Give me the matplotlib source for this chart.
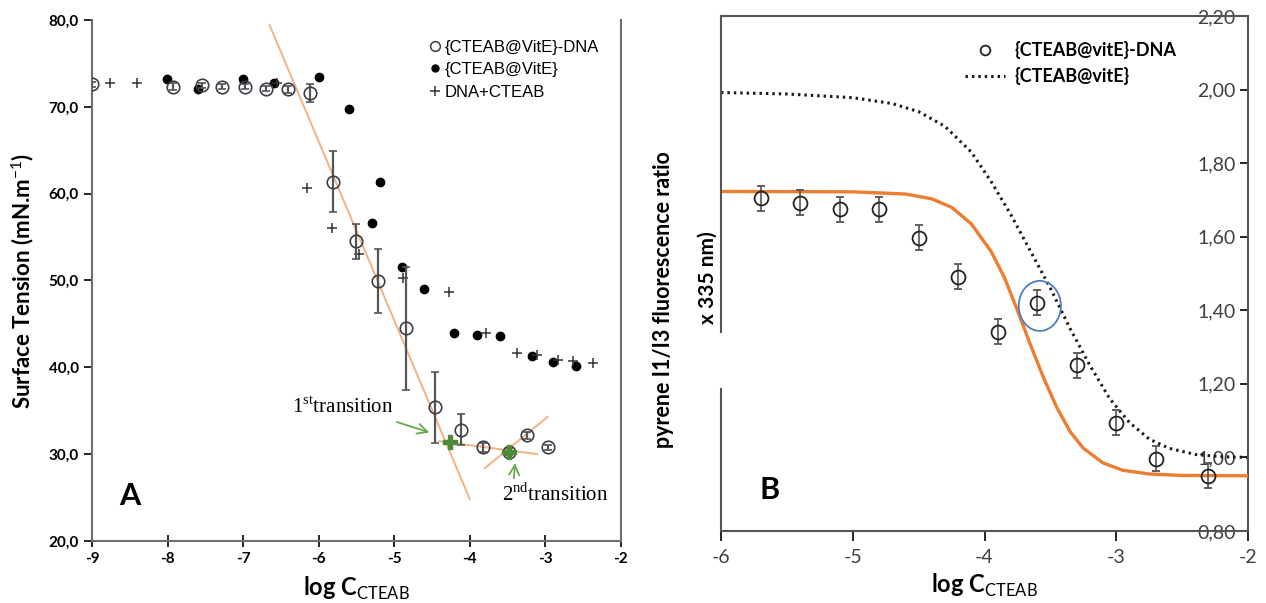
import numpy as np
import matplotlib.pyplot as plt
from matplotlib.patches import Ellipse
from matplotlib.lines import Line2D
from matplotlib.ticker import FuncFormatter

plt.rcParams['font.family'] = ['Lato', 'DejaVu Sans']
plt.rcParams['mathtext.fontset'] = 'custom'
plt.rcParams['mathtext.rm'] = 'Liberation Serif'
plt.rcParams['mathtext.sf'] = 'Lato'

# ---- panel A : surface tension ----
dna_x = [-9.0, -7.93, -7.54, -7.28, -6.98, -6.70, -6.41, -6.12, -5.81, -5.51,
         -5.22, -4.85, -4.46, -4.12, -3.83, -3.48, -3.25, -2.97]
dna_y = [72.6, 72.3, 72.5, 72.3, 72.3, 72.1, 72.0, 71.6, 61.4, 54.5,
         49.9, 44.5, 35.4, 32.8, 30.8, 30.3, 32.2, 30.8]
dna_err = [0.3, 0.4, 0.3, 0.3, 0.3, 0.3, 0.4, 1.0, 3.5, 2.0,
           3.7, 7.1, 4.1, 1.8, 0.5, 0.4, 0.4, 0.3]

vite_x = [-8.01, -7.60, -7.00, -6.59, -6.00, -5.60, -5.19, -5.30, -4.90, -4.61,
          -4.21, -3.91, -3.60, -3.18, -2.90, -2.60]
vite_y = [73.2, 72.0, 73.2, 72.8, 73.4, 69.8, 61.4, 56.6, 51.5, 49.0,
          43.9, 43.7, 43.6, 41.3, 40.6, 40.1]

mix_x = [-8.76, -8.40, -6.55, -6.16, -5.83, -5.47, -4.89, -4.28, -3.78, -3.38,
         -3.11, -2.84, -2.64, -2.37]
mix_y = [72.8, 72.8, 72.7, 60.7, 56.1, 53.0, 50.3, 48.7, 44.0, 41.7,
         41.4, 40.9, 40.7, 40.5]

# guide lines drawn by hand in the original
fit1_x, fit1_y = [-6.65, -4.0], [79.4, 24.8]
fit2_x, fit2_y = [-4.40, -3.11], [31.5, 30.0]
fit3_x, fit3_y = [-3.80, -2.97], [28.4, 34.3]
trans_x = [-4.26, -3.48]
trans_y = [31.4, 30.3]

# ---- panel B : pyrene ratio ----
pyr_x = [-5.7, -5.4, -5.1, -4.8, -4.5, -4.2, -3.9, -3.6, -3.3, -3.0, -2.7, -2.3]
pyr_y = [1.705, 1.692, 1.675, 1.675, 1.597, 1.491, 1.341, 1.420, 1.251, 1.094, 0.996, 0.950]
pyr_err = [0.034] * 12

fitdna_x = [-6.0, -5.0, -4.6, -4.4, -4.25, -4.1, -3.95, -3.85, -3.75, -3.65,
            -3.55, -3.45, -3.35, -3.25, -3.1, -2.95, -2.75, -2.5, -2.0]
fitdna_y = [1.723, 1.722, 1.716, 1.703, 1.68, 1.635, 1.56, 1.49, 1.40, 1.305,
            1.215, 1.135, 1.07, 1.025, 0.985, 0.965, 0.955, 0.951, 0.95]

fitvite_x = [-6.0, -5.5, -5.0, -4.7, -4.5, -4.3, -4.1, -3.95, -3.8, -3.65,
             -3.5, -3.35, -3.2, -3.05, -2.9, -2.75, -2.6, -2.4, -2.2, -2.0]
fitvite_y = [1.992, 1.988, 1.978, 1.962, 1.94, 1.90, 1.83, 1.75, 1.66, 1.56,
             1.46, 1.35, 1.25, 1.16, 1.095, 1.05, 1.025, 1.008, 1.002, 1.0]

W, H = 1266, 603
fig = plt.figure(figsize=(W / 100, H / 100), dpi=100)

def frac(x0, y0, x1, y1):
    # pixel box -> figure fraction
    return [x0 / W, 1 - y1 / H, (x1 - x0) / W, (y1 - y0) / H]

comma1 = FuncFormatter(lambda v, p: ('%.1f' % v).replace('.', ','))
comma2 = FuncFormatter(lambda v, p: ('%.2f' % v).replace('.', ','))
intfmt = FuncFormatter(lambda v, p: '%d' % v)

# ================= A =================
ax1 = fig.add_axes(frac(92, 20, 621, 541))
ax1.errorbar(dna_x, dna_y, yerr=dna_err, fmt='o', mfc='none', mec='#3a3f4a', ms=9,
             mew=1.2, ecolor='#555555', elinewidth=1.6, capsize=3, zorder=4)
ax1.plot(vite_x, vite_y, 'o', color='black', ms=6, zorder=3)
ax1.plot(mix_x, mix_y, '+', color='#333333', ms=7, mew=1.1, zorder=3)

for fx, fy in [(fit1_x, fit1_y), (fit2_x, fit2_y), (fit3_x, fit3_y)]:
    ax1.plot(fx, fy, color='#f4b183', lw=1.4, zorder=2)
ax1.plot(trans_x, trans_y, 'P', color='#4f8a3c', ms=10, zorder=5)

ax1.annotate('', xy=(-4.50, 32.4), xytext=(-5.0, 33.8),
             arrowprops=dict(arrowstyle='->', color='#6aa84f', lw=1.3, mutation_scale=18))
ax1.annotate('', xy=(-3.40, 29.3), xytext=(-3.42, 26.9),
             arrowprops=dict(arrowstyle='->', color='#6aa84f', lw=1.3, mutation_scale=18))
ax1.text(-6.36, 35.4, r'1$^{\mathrm{st}}$transition', family='Liberation Serif',
         fontsize=15, va='center', ha='left')
ax1.text(-3.58, 25.3, r'2$^{\mathrm{nd}}$transition', family='Liberation Serif',
         fontsize=15, va='center', ha='left')
ax1.text(-8.5, 25.2, 'A', fontsize=22, fontweight='bold', ha='center', va='center')

ax1.set_xlim(-9, -2)
ax1.set_ylim(20, 80)
ax1.set_xticks(range(-9, -1))
ax1.set_yticks(range(20, 81, 10))
ax1.xaxis.set_major_formatter(intfmt)
ax1.yaxis.set_major_formatter(comma1)
ax1.tick_params(axis='x', direction='inout', length=8, width=1.2, labelsize=11, pad=4)
ax1.tick_params(axis='y', direction='out', length=6, width=1.2, labelsize=11)
for lab in ax1.get_xticklabels() + ax1.get_yticklabels():
    lab.set_fontweight('bold')
for s in ax1.spines.values():
    s.set_color('#6e6e6e')
    s.set_linewidth(1.5)
ax1.spines['top'].set_visible(False)
ax1.set_xlabel(r'log C$_{\mathsf{CTEAB}}$', fontsize=17, fontweight='bold', labelpad=6)
ax1.set_ylabel(r'Surface Tension (mN.m$^{\mathsf{-1}}$)', fontsize=16, fontweight='bold',
               labelpad=8)
leg1 = [Line2D([], [], ls='none', marker='o', mfc='none', mec='#3a3f4a', ms=7, mew=1.1),
        Line2D([], [], ls='none', marker='o', color='black', ms=5),
        Line2D([], [], ls='none', marker='+', color='#333333', ms=7, mew=1.1)]
ax1.legend(leg1, ['{CTEAB@VitE}-DNA', '{CTEAB@VitE}', 'DNA+CTEAB'],
           loc='upper left', bbox_to_anchor=(0.625, 0.975), frameon=False,
           prop={'family': 'Liberation Sans', 'size': 12}, handlelength=0.7,
           handletextpad=0.2, labelspacing=0.45, borderaxespad=0)

# ================= B =================
ax2 = fig.add_axes(frac(721, 16, 1248, 531))
ax2.plot(fitvite_x, fitvite_y, color='#1a1a1a', lw=2.2, ls=(0, (0.8, 1.3)), zorder=2)
ax2.plot(fitdna_x, fitdna_y, color='#ed7d31', lw=2.4, zorder=3)
ax2.errorbar(pyr_x, pyr_y, yerr=pyr_err, fmt='o', mfc='none', mec='#222222', ms=10,
             mew=1.3, ecolor='#555555', elinewidth=1.2, capsize=3, zorder=4)
ax2.add_patch(Ellipse((-3.58, 1.412), 0.32, 0.136, angle=0, fill=False,
                      ec='#4f7fb8', lw=1.3, zorder=5))
ax2.text(-5.63, 0.912, 'B', fontsize=22, fontweight='bold', ha='center', va='center')

ax2.set_xlim(-6, -2)
ax2.set_ylim(0.8, 2.2)
ax2.set_xticks(range(-6, -1))
ax2.set_yticks(np.arange(0.8, 2.21, 0.2))
ax2.xaxis.set_major_formatter(intfmt)
ax2.yaxis.set_major_formatter(comma2)
# y axis crosses at x = -2 : labels sit inside the box
ax2.spines['left'].set_position(('axes', 1.0))
ax2.spines['right'].set_visible(False)
for s in ax2.spines.values():
    s.set_color('#555555')
    s.set_linewidth(1.5)
ax2.tick_params(axis='y', direction='out', length=6, width=1.2, labelsize=14,
                labelcolor='#404040', pad=3)
ax2.tick_params(axis='x', direction='out', length=7, width=1.2, labelsize=14,
                labelcolor='#404040', pad=6)
# left border of the box, broken where the axis title sits
for y0, y1 in [(0.0, 0.276), (0.386, 1.0)]:
    ax2.plot([0, 0], [y0, y1], transform=ax2.transAxes, color='#555555', lw=1.5,
             clip_on=False, zorder=6)
ax2.set_xlabel(r'log C$_{\mathsf{CTEAB}}$', fontsize=17, fontweight='bold', labelpad=4)
fig.text(663 / W, 1 - 300 / H, 'pyrene I1/I3 fluorescence ratio', rotation=90,
         fontsize=15.5, fontweight='bold', ha='center', va='center')
fig.text(708 / W, 1 - 278 / H, 'x 335 nm)', rotation=90,
         fontsize=15, fontweight='bold', ha='center', va='center')

handles = [Line2D([], [], ls='none', marker='o', mfc='none', mec='#222222', ms=7, mew=1.3),
           Line2D([], [], color='#1a1a1a', lw=2.2, ls=(0, (0.8, 1.3)))]
ax2.legend(handles, ['{CTEAB@vitE}-DNA', '{CTEAB@vitE}'], loc='upper left',
           bbox_to_anchor=(0.45, 0.965), frameon=False,
           prop={'weight': 'bold', 'size': 13}, handlelength=2.2,
           handletextpad=0.5, labelspacing=0.45, borderaxespad=0)

fig.savefig('out.png', dpi=100, facecolor='white')
